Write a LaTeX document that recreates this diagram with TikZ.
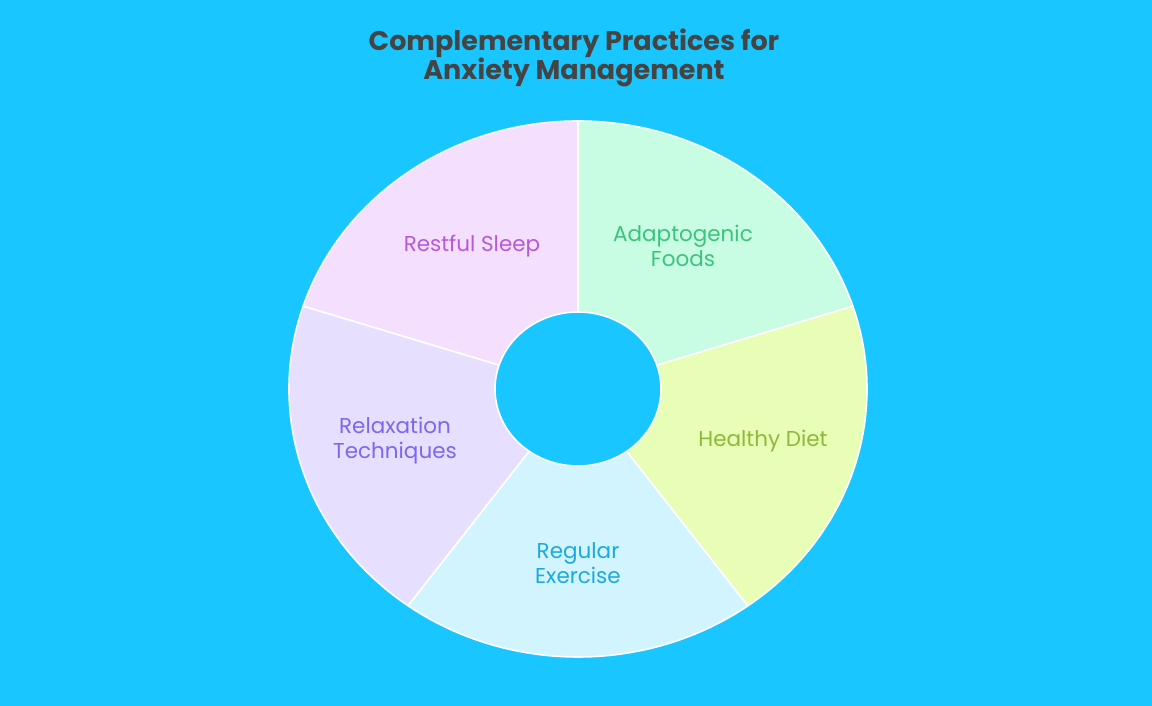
\documentclass[tikz,border=0pt]{standalone}
\usepackage{fontspec}
\setmainfont{Poppins}
\newfontfamily\titlefont{Poppins}
\usetikzlibrary{calc}
\definecolor{bgc}{HTML}{1AC6FF}
\definecolor{fA}{HTML}{C8FDE3}
\definecolor{tA}{HTML}{3CC47C}
\definecolor{fH}{HTML}{E8FDB5}
\definecolor{tH}{HTML}{8DBA3A}
\definecolor{fE}{HTML}{D2F4FE}
\definecolor{tE}{HTML}{1BAAE0}
\definecolor{fR}{HTML}{E6DFFE}
\definecolor{tR}{HTML}{7B68EE}
\definecolor{fS}{HTML}{F4DFFE}
\definecolor{tS}{HTML}{B85AD8}
\definecolor{ttl}{HTML}{444444}
\tikzset{
  seg/.style={draw=white,line width=1.6pt,line join=round},
  lbl/.style={align=center,font=\fontsize{21.5}{25}\selectfont,inner sep=0pt},
}
\newcommand{\donutseg}[3]{%
  \path[seg,fill=#3] ($(c)+(#1:289pt and 268pt)$)
    arc[start angle=#1,end angle=#2,x radius=289pt,y radius=268pt]
    -- ($(c)+(#2:83pt and 77pt)$)
    arc[start angle=#2,end angle=#1,x radius=83pt,y radius=77pt] -- cycle;}
\begin{document}
\begin{tikzpicture}[x=1pt,y=1pt]
\fill[bgc] (0,0) rectangle (1152,706);
\useasboundingbox (0,0) rectangle (1152,706);
\coordinate (c) at (578,317);
\donutseg{18}{90}{fA}
\donutseg{90}{162}{fS}
\donutseg{162}{234}{fR}
\donutseg{234}{306}{fE}
\donutseg{306}{378}{fH}
\node[lbl,text=tA] (la) at (683,460) {Adaptogenic\\Foods};
\node[lbl,text=tS] (ls) at (472,460) {Restful Sleep};
\node[lbl,text=tR] (lr) at (395,265) {Relaxation\\Techniques};
\node[lbl,text=tE] (le) at (578,143) {Regular\\Exercise};
\node[lbl,text=tH] (lh) at (763,265) {Healthy Diet};
\node[align=center,text=ttl,font=\titlefont\bfseries\fontsize{27}{29.5}\selectfont,inner sep=0pt] (title) at (574,648) {Complementary Practices for\\Anxiety Management};
\end{tikzpicture}
\end{document}
